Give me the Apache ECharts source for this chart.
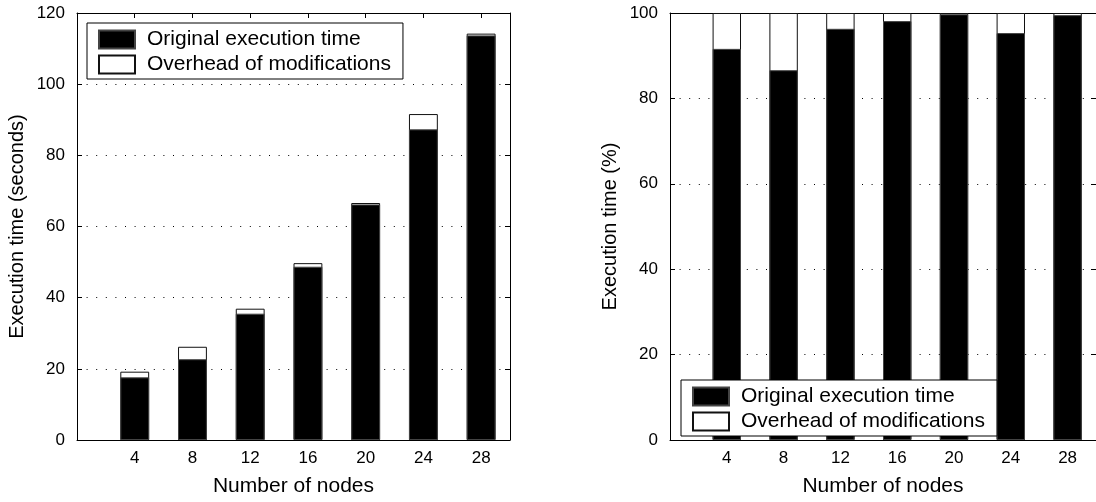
<!DOCTYPE html>
<html lang="en">
<head>
    <meta charset="UTF-8">
    <script src="https://cdn.jsdelivr.net/npm/echarts@6/dist/echarts.min.js"></script>
    <title>Execution time</title>
</head>
<body>
<style>
    html, body {
        margin: 0;
        background: #fff;
    }
    #main {
        width: 1096px;
        height: 502px;
    }
</style>
<div id='main'></div>
<script>
    // number of nodes on the x axis
    var nodes = [4, 8, 12, 16, 20, 24, 28];
    // left plot, seconds: original time and total (original + overhead) bar tops
    var origSec = [17.6, 22.7, 35.5, 48.7, 66.2, 87.3, 113.7];
    var totalSec = [19.2, 26.2, 36.9, 49.7, 66.6, 91.6, 114.2];
    // right plot, percent
    var origPct = [91.6, 86.6, 96.3, 98.1, 99.7, 95.3, 99.5];
    var totalPct = [100, 100, 100, 100, 100, 100, 100];

    var nameOrig = 'Original execution time';
    var nameOver = 'Overhead of modifications';
    var font = 'Liberation Sans, Arial, Helvetica, sans-serif';

    function pairs(ys) {
        var out = [];
        for (var i = 0; i < nodes.length; i++) {
            out.push([nodes[i], ys[i]]);
        }
        return out;
    }

    function xAxes(grid) {
        return [
            {
                gridIndex: grid, type: 'value', min: 0, max: 30, interval: 4,
                name: 'Number of nodes', nameLocation: 'middle', nameGap: 36,
                nameTextStyle: {fontSize: 21, color: '#000', fontFamily: font},
                axisLine: {onZero: false, lineStyle: {color: '#000', width: 1}},
                axisTick: {inside: true, length: 5, lineStyle: {color: '#000'}},
                axisLabel: {color: '#000', fontSize: 17, fontFamily: font, margin: 10,
                    showMinLabel: false, showMaxLabel: false},
                splitLine: {show: false}
            },
            {
                gridIndex: grid, type: 'value', min: 0, max: 30, interval: 4, position: 'top',
                axisLine: {show: true, onZero: false, lineStyle: {color: '#000', width: 1}},
                axisTick: {show: true, inside: true, length: 5, lineStyle: {color: '#000'}},
                axisLabel: {show: false},
                splitLine: {show: false}
            }
        ];
    }

    function yAxes(grid, max, name) {
        return [
            {
                gridIndex: grid, type: 'value', min: 0, max: max, interval: 20,
                name: name, nameLocation: 'middle', nameGap: 50,
                nameTextStyle: {fontSize: 20, color: '#000', fontFamily: font},
                axisLine: {show: true, onZero: false, lineStyle: {color: '#000', width: 1}},
                axisTick: {show: true, inside: true, length: 5, lineStyle: {color: '#000'}},
                axisLabel: {color: '#000', fontSize: 17, fontFamily: font, margin: 12},
                splitLine: {show: true, lineStyle: {color: '#000', width: 1, type: [1, 8.6]}}
            },
            {
                gridIndex: grid, type: 'value', min: 0, max: max, interval: 20, position: 'right',
                axisLine: {show: true, onZero: false, lineStyle: {color: '#000', width: 1}},
                axisTick: {show: true, inside: true, length: 5, lineStyle: {color: '#000'}},
                axisLabel: {show: false},
                splitLine: {show: false}
            }
        ];
    }

    // white total bar drawn first, black original bar laid over it
    function bars(grid, orig, total) {
        return [
            {
                name: nameOver, type: 'bar',
                xAxisIndex: grid * 2, yAxisIndex: grid * 2,
                barWidth: '50%', barGap: '-100%',
                itemStyle: {color: '#fff', borderColor: '#111', borderWidth: 1},
                data: pairs(total), animation: false
            },
            {
                name: nameOrig, type: 'bar',
                xAxisIndex: grid * 2, yAxisIndex: grid * 2,
                barWidth: '50%', barGap: '-100%',
                itemStyle: {color: '#000', borderColor: '#444', borderWidth: 1},
                data: pairs(orig), animation: false
            }
        ];
    }

    function legend(left, top) {
        return {
            left: left, top: top, orient: 'vertical',
            data: [nameOrig, nameOver],
            icon: 'rect', itemWidth: 36, itemHeight: 18, itemGap: 4,
            padding: [6, 12, 4, 11],
            borderColor: '#000', borderWidth: 1, borderRadius: 0,
            backgroundColor: '#fff',
            selectedMode: false,
            textStyle: {fontSize: 21, color: '#000', fontFamily: font, lineHeight: 20, padding: [0, 0, 0, 7]}
        };
    }

    var chart = echarts.init(document.getElementById('main'));
    var option = {
        backgroundColor: '#fff',
        animation: false,
        grid: [
            {left: 77, top: 13, width: 433, height: 431},
            {left: 670, top: 13, width: 436, height: 431}
        ],
        legend: [legend(87, 23), legend(681, 380)],
        xAxis: xAxes(0).concat(xAxes(1)),
        yAxis: yAxes(0, 120, 'Execution time (seconds)').concat(yAxes(1, 100, 'Execution time (%)')),
        series: bars(0, origSec, totalSec).concat(bars(1, origPct, totalPct))
    };
    chart.setOption(option);
</script>
</body>
</html>
